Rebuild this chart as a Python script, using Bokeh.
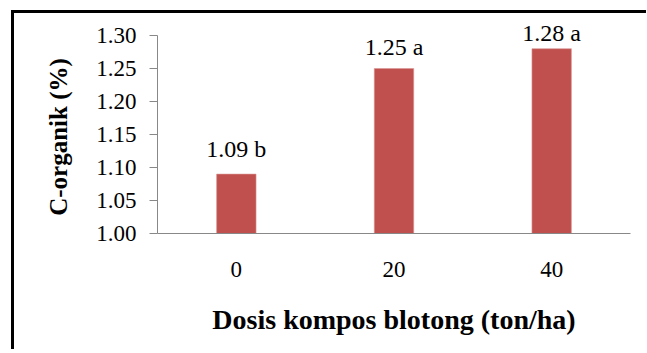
from bokeh.plotting import figure
from bokeh.models import Range1d, FixedTicker, PrintfTickFormatter, ColumnDataSource, LabelSet
from bokeh.embed import file_html
from bokeh.resources import INLINE

categories = ["0", "20", "40"]
values = [1.09, 1.25, 1.28]
letters = ["b", "a", "a"]
y_ticks = [1.00, 1.05, 1.10, 1.15, 1.20, 1.25, 1.30]

labels = [f"{v:.2f} {l}" for v, l in zip(values, letters)]
label_offsets = [17, 14, 8]

src = ColumnDataSource(dict(x=categories, top=values, label=labels, off=label_offsets))

FRAME_H = 218
y_end = 1.0 + 0.30 * FRAME_H / 198

p = figure(x_range=categories, y_range=Range1d(1.0, y_end),
           frame_width=473, frame_height=FRAME_H,
           min_border_left=143, min_border_right=16, min_border_top=2, min_border_bottom=116,
           output_backend="svg", toolbar_location=None)
p.styles = {"border-left": "3px solid black", "border-top": "3px solid black",
            "margin-left": "11px", "margin-top": "10px"}

p.vbar(x="x", top="top", bottom=1.0, width=0.25, source=src,
       fill_color="#C0504D", line_color="#D99694", line_width=0.6)
p.add_layout(LabelSet(x="x", y="top", text="label", y_offset="off", source=src,
                      text_align="center", text_baseline="alphabetic",
                      text_font="Liberation Serif", text_font_size="24px", text_color="black"))

p.xgrid.grid_line_color = None
p.ygrid.grid_line_color = None
p.outline_line_color = None

font = "Liberation Serif"
p.yaxis.ticker = FixedTicker(ticks=y_ticks)
p.yaxis.formatter = PrintfTickFormatter(format="%.2f")
p.yaxis.bounds = (1.0, 1.30)
# trailing non-breaking spaces keep the label centred on the 1.00-1.30 span
p.yaxis.axis_label = "C-organik (%)" + "\u00a0" * 4
p.xaxis.axis_label = "Dosis kompos blotong (ton/ha)"
for ax in (p.xaxis, p.yaxis):
    ax.axis_line_color = "#888888"
    ax.major_tick_line_color = "#888888"
    ax.minor_tick_line_color = None
    ax.major_label_text_font = font
    ax.major_label_text_font_size = "23px"
    ax.major_label_text_color = "black"
    ax.axis_label_text_font = font
    ax.axis_label_text_font_style = "bold"
    ax.axis_label_text_color = "black"

p.yaxis.major_tick_out = 8
p.yaxis.major_tick_in = 0
p.yaxis.major_label_standoff = 13
p.yaxis.axis_label_text_font_size = "25px"
p.yaxis.axis_label_standoff = 21

p.xaxis.major_tick_out = 0
p.xaxis.major_tick_in = 0
p.xaxis.major_label_standoff = 28
p.xaxis.axis_label_text_font_size = "28px"
p.xaxis.axis_label_standoff = 24

open("out.html", "w").write(file_html(p, INLINE))
